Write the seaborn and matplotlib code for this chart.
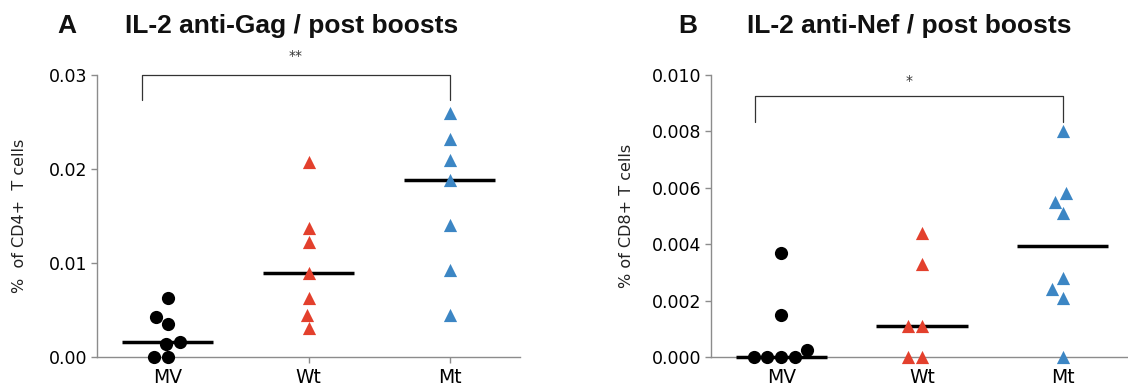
import pandas as pd
import matplotlib
matplotlib.use("Agg")
import matplotlib.pyplot as plt
import seaborn as sns

# groups on the x axis
groups = ["MV", "Wt", "Mt"]

# panel A: IL-2 anti-Gag, % of CD4+ T cells
gag_mv = [0.0063, 0.0043, 0.0035, 0.0014, 0.0016, 0.0, 0.0]
gag_wt = [0.0207, 0.0137, 0.0122, 0.0089, 0.0063, 0.0045, 0.0031]
gag_mt = [0.0260, 0.0232, 0.0210, 0.0188, 0.0140, 0.0093, 0.0045]

# panel B: IL-2 anti-Nef, % of CD8+ T cells
nef_mv = [0.0037, 0.0015, 0.00025, 0.0, 0.0, 0.0, 0.0]
nef_wt = [0.0044, 0.0033, 0.0011, 0.0011, 0.0, 0.0]
nef_mt = [0.0080, 0.0058, 0.0055, 0.0051, 0.0028, 0.0024, 0.0021, 0.0]

colors = {"MV": "black", "Wt": "#e3402d", "Mt": "#3c86c4"}
markers = {"MV": "o", "Wt": "^", "Mt": "^"}


def long_df(mv, wt, mt):
    rows = [("MV", v) for v in mv] + [("Wt", v) for v in wt] + [("Mt", v) for v in mt]
    return pd.DataFrame(rows, columns=["group", "value"])


df_gag = long_df(gag_mv, gag_wt, gag_mt)
df_nef = long_df(nef_mv, nef_wt, nef_mt)

sns.set_theme(style="ticks")
plt.rcParams["font.family"] = ["DejaVu Sans"]
axis_grey = "#8c8c8c"


def draw_panel(ax, df, ymax, yticks, ticklabels, ylabel, pad):
    # median bars
    sns.boxplot(data=df, x="group", y="value", order=groups, ax=ax,
                width=0.65, showbox=False, showcaps=False, showfliers=False,
                whis=0, whiskerprops=dict(visible=False),
                boxprops=dict(visible=False),
                medianprops=dict(color="black", linewidth=2.5, zorder=2.8))
    # points, one call per group so each gets its own marker
    for g in groups:
        sub = df[df["group"] == g]
        sns.swarmplot(data=sub, x="group", y="value", order=groups, ax=ax,
                      color=colors[g], marker=markers[g], size=9.5,
                      linewidth=0, zorder=3)
    for art in ax.collections + ax.lines:
        art.set_clip_on(False)
    ax.set_xlim(-0.5, 2.5)
    ax.set_ylim(0, ymax)
    ax.set_yticks(yticks)
    ax.set_yticklabels(ticklabels)
    ax.set_xlabel("")
    ax.set_ylabel(ylabel, fontsize=11.5, color="#222222", labelpad=pad)
    sns.despine(ax=ax)
    for s in ["left", "bottom"]:
        ax.spines[s].set_color(axis_grey)
        ax.spines[s].set_linewidth(1.0)
    ax.tick_params(axis="both", colors=axis_grey, length=4, width=1,
                   labelcolor="black", pad=3)
    ax.tick_params(axis="y", labelsize=12.5)
    ax.tick_params(axis="x", labelsize=13.5, pad=4)


fig = plt.figure(figsize=(11.28, 3.92), dpi=100)
ax1 = fig.add_axes([97 / 1128, 35 / 392, 423 / 1128, 282 / 392])
ax2 = fig.add_axes([711 / 1128, 35 / 392, 422 / 1128, 282 / 392])

draw_panel(ax1, df_gag, 0.03, [0, 0.01, 0.02, 0.03],
           ["0.00", "0.01", "0.02", "0.03"], "%  of CD4+  T cells", 16)
draw_panel(ax2, df_nef, 0.010, [0, 0.002, 0.004, 0.006, 0.008, 0.010],
           ["0.000", "0.002", "0.004", "0.006", "0.008", "0.010"], "% of CD8+ T cells", 13)

# significance brackets
br = "#333333"
ax1.plot([-0.18, -0.18, 2, 2], [0.0273, 0.0300, 0.0300, 0.0273], color=br, lw=0.9, clip_on=False)
ax1.text(0.91, 0.0313, "**", ha="center", va="bottom", fontsize=10, color=br)
ax2.plot([-0.19, -0.19, 2, 2], [0.00833, 0.00926, 0.00926, 0.00833], color=br, lw=0.9, clip_on=False)
ax2.text(0.91, 0.00955, "*", ha="center", va="bottom", fontsize=10, color=br)

# titles and panel letters
tfont = dict(family=["Liberation Sans", "DejaVu Sans"], weight="bold", fontsize=19, color="#111111", va="baseline")
fig.text(57 / 1128, 1 - 33 / 392, "A", ha="left", **tfont)
fig.text(125 / 1128, 1 - 33 / 392, "IL-2 anti-Gag / post boosts", ha="left", **tfont)
fig.text(678 / 1128, 1 - 33 / 392, "B", ha="left", **tfont)
fig.text(747 / 1128, 1 - 33 / 392, "IL-2 anti-Nef / post boosts", ha="left", **tfont)

fig.savefig("out.png", dpi=100)
